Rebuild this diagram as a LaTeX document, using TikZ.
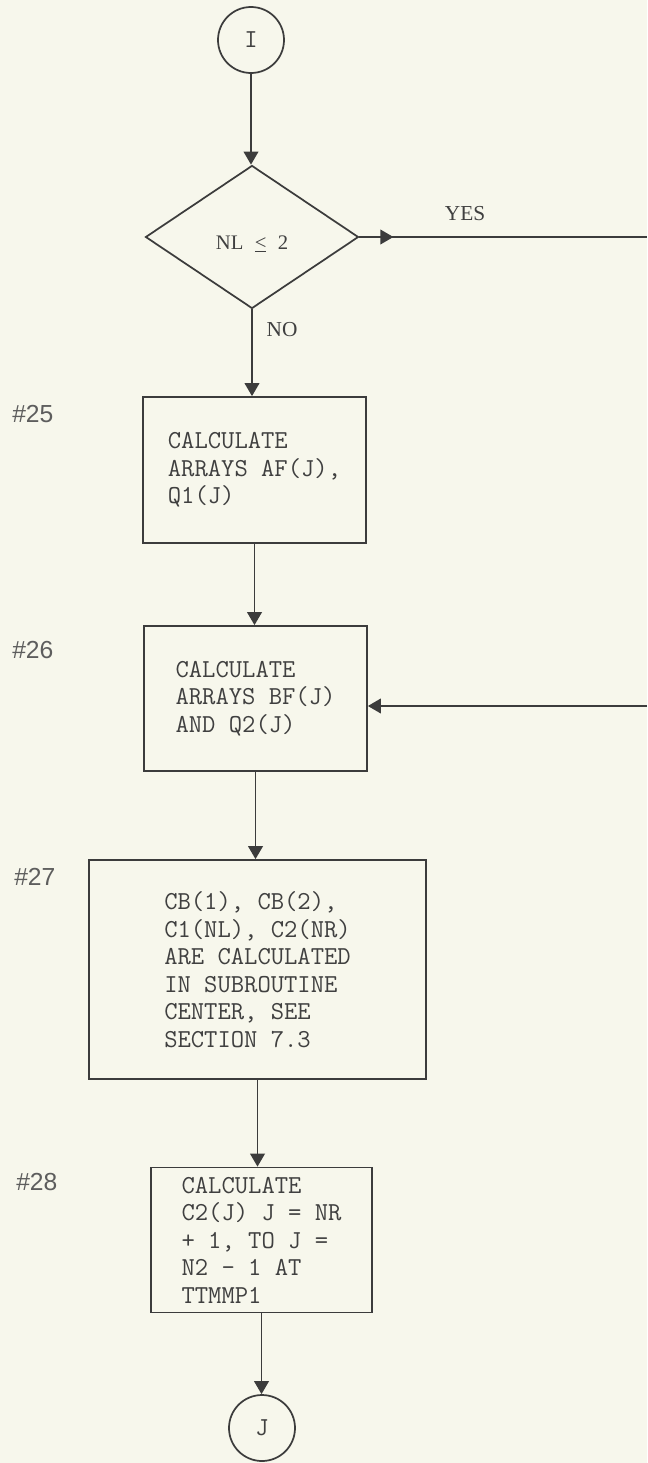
\documentclass[tikz,border=0pt]{standalone}
\usepackage{fontspec}
\setmainfont{Liberation Serif}
\newfontfamily\sansfnt{Liberation Sans}
\usetikzlibrary{arrows.meta,shapes.geometric,decorations.markings}
\definecolor{paper}{RGB}{247,247,236}
\definecolor{ink}{RGB}{60,60,60}
\definecolor{txt}{RGB}{64,64,64}
\begin{document}
\begin{tikzpicture}[x=0.75pt,y=-0.75pt,
  line/.style={draw=ink,line width=1.3pt},
  arr/.style={line,-{Triangle[length=9.75pt,width=11pt]}},
  procbox/.style={line,rectangle,align=left,inner sep=0pt,font=\ttfamily\fontsize{19.4pt}{20.6pt}\selectfont,text=txt},
  conn/.style={line,circle,minimum size=49.5pt,inner sep=0pt,font=\ttfamily\fontsize{19.4pt}{20pt}\selectfont,text=txt},
  dec/.style={line,diamond,minimum width=159.75pt,minimum height=107.25pt,inner sep=0pt,font=\fontsize{15.5pt}{18pt}\selectfont,text=txt},
  tag/.style={anchor=west,inner sep=0pt,font=\sansfnt\fontsize{18.5pt}{22pt}\selectfont,text=txt!85},
  lbl/.style={inner sep=0pt,font=\fontsize{16pt}{19pt}\selectfont,text=txt}
]
\useasboundingbox (0,0) rectangle (647,1463);
\fill[paper] (0,0) rectangle (647,1463);

\node[conn] (I) at (251,40) {I};
\node[dec] (d) at (252,237) {\raisebox{-9pt}[0pt][0pt]{NL\hspace{0.55em}\underline{<}\hspace{0.55em}2}};
\node[procbox,minimum width=167.25pt,minimum height=109.5pt] (b25) at (254.5,470) {CALCULATE\\ARRAYS AF(J),\\Q1(J)};
\node[procbox,minimum width=167.25pt,minimum height=108.75pt] (b26) at (255.5,698.5) {CALCULATE\\ARRAYS BF(J)\\AND Q2(J)};
\node[procbox,minimum width=252.75pt,minimum height=164.25pt] (b27) at (257.5,969.5) {CB(1), CB(2),\\C1(NL), C2(NR)\\ARE CALCULATED\\IN SUBROUTINE\\CENTER, SEE\\SECTION 7.3};
\node[procbox,minimum width=165.75pt,minimum height=108.75pt] (b28) at (261.5,1240) {CALCULATE\\C2(J) J = NR\\+ 1, TO J =\\N2 - 1 AT\\TTMMP1};
\node[conn] (J) at (262,1428) {J};

\node[tag] (t25) at (12,414) {\#25};
\node[tag] (t26) at (12,650) {\#26};
\node[tag] (t27) at (14,877) {\#27};
\node[tag] (t28) at (16,1182) {\#28};

\node[lbl] (no) at (282,330) {NO};
\node[lbl] (yes) at (465,214) {YES};

\coordinate (yesend) at (647,237);
\coordinate (in26) at (647,706);

\draw[arr] (I.south) -- (I.south |- d.north);
\draw[line,postaction={decorate},decoration={markings,mark=at position 25.5pt with {\arrow{Triangle[length=9.75pt,width=11pt]}}}] (d.east) -- (yesend);
\draw[arr] (d.south) -- (d.south |- b25.north);
\draw[arr] (b25.south) -- (b25.south |- b26.north);
\draw[arr] (in26) -- (in26 -| b26.east);
\draw[arr] (b26.south) -- (b26.south |- b27.north);
\draw[arr] (b27.south) -- (b27.south |- b28.north);
\draw[arr] (b28.south) -- (b28.south |- J.north);
\end{tikzpicture}
\end{document}
